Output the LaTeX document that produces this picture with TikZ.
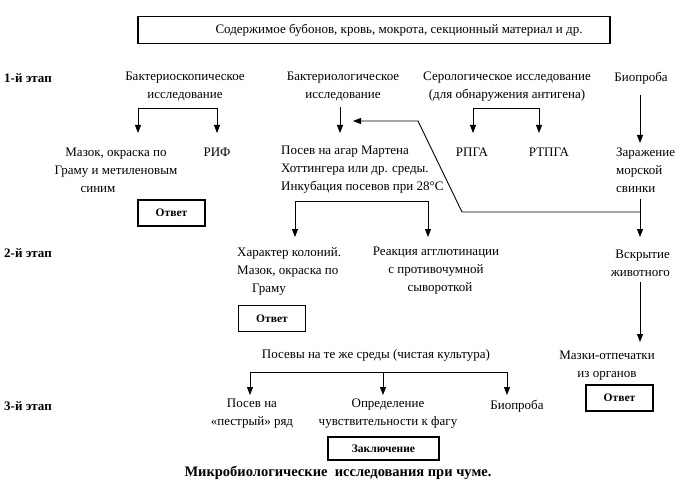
\documentclass[tikz,border=0pt]{standalone}
\usepackage{fontspec}
\setmainfont{Liberation Serif}
\usetikzlibrary{arrows.meta}
\begin{document}
\begin{tikzpicture}[x=1pt,y=-1pt,
  txt/.style={inner sep=0pt,font=\fontsize{13}{18}\selectfont},
  stage/.style={inner sep=0pt,anchor=west,font=\fontsize{13}{18}\selectfont\bfseries},
  ansbox/.style={draw,line width=1.1pt,inner sep=0pt,minimum width=67pt,minimum height=26pt,font=\fontsize{11.5}{14}\selectfont\bfseries},
  ln/.style={line width=0.9pt},
  arr/.style={line width=0.9pt,-{Triangle[length=8pt,width=6pt]}}]
\useasboundingbox (0,0) rectangle (682,497);

% source box
\node[draw,line width=1.1pt,inner sep=0pt,minimum width=472pt,minimum height=27pt,txt] (src) at (374,30)
  {\hspace*{50pt}Содержимое бубонов, кровь, мокрота, секционный материал и др.};

% stage labels
\node[stage] (st1) at (4,78) {1-й этап};
\node[stage] (st2) at (4,253) {2-й этап};
\node[stage] (st3) at (4,406) {3-й этап};

% stage 1 headers
\node[txt,align=center] (bsk) at (185,87) {Бактериоскопическое\\исследование};
\node[txt,align=center] (bkl) at (343,87) {Бактериологическое\\исследование};
\node[txt,align=center] (ser) at (507,87) {Серологическое исследование\\(для обнаружения антигена)};
\node[txt] (bio) at (641,78) {Биопроба};

% stage 1 results
\node[txt,align=center] (maz) at (116,170) {Мазок, окраска по\\Граму и метиленовым\\синим\hspace*{36pt}};
\node[txt] (rif) at (217,152) {РИФ};
\node[txt,align=left,anchor=west] (pos) at (281,170) {Посев на агар Мартена\\Хоттингера или др. среды.\\Инкубация посевов при 28°C};
\node[txt] (rpga) at (472,152) {РПГА};
\node[txt] (rtpga) at (549,152) {РТПГА};
\node[txt,align=left,anchor=west] (zar) at (616,170) {Заражение\\морской\\свинки};
\node[ansbox] (otv1) at (171.5,213) {Ответ};

% stage 2
\node[txt,align=left,anchor=west] (har) at (237,271) {Характер колоний.\\Мазок, окраска по\\\hspace*{15pt}Граму};
\node[txt,align=center] (rea) at (436,271) {Реакция агглютинации\\с противочумной\hspace*{10pt}\\\hspace*{8pt}сывороткой};
\node[txt,align=right,anchor=east] (vsk) at (670,263) {Вскрытие\\животного};
\node[ansbox] (otv2) at (272,318.5) {Ответ};
\node[txt] (posv) at (376,355) {Посевы на те же среды (чистая культура)};
\node[txt,align=center] (mzk) at (607,366) {Мазки-отпечатки\\из органов};

% stage 3
\node[txt,align=center] (pes) at (252,414) {Посев на\\«пестрый» ряд};
\node[txt,align=center] (opr) at (388,414) {Определение\\чувствительности к фагу};
\node[txt] (bio2) at (517,406) {Биопроба};
\node[ansbox] (otv3) at (619.5,398) {Ответ};
\node[ansbox,minimum width=111pt,minimum height=23pt] (zak) at (383.5,448.5) {Заключение};

\node[inner sep=0pt,font=\fontsize{14.5}{18}\selectfont\bfseries] (title) at (338,473)
  {Микробиологические\ \ исследования при чуме.};

% connectors
\coordinate (b1l) at (138,108);
\coordinate (b1r) at (217,108);
\draw[ln] (b1l) -- (b1r);
\draw[arr] (b1l) -- (b1l |- 0,133);
\draw[arr] (b1r) -- (b1r |- 0,133);

\coordinate (k1) at (340,107);
\draw[arr] (k1) -- (k1 |- 0,133);

\coordinate (s1l) at (473,108);
\coordinate (s1r) at (539,108);
\draw[ln] (s1l) -- (s1r);
\draw[arr] (s1l) -- (s1l |- 0,133);
\draw[arr] (s1r) -- (s1r |- 0,133);

\coordinate (bv) at (640,95);
\draw[arr] (bv) -- (bv |- 0,143);

\coordinate (zv) at (640,199);
\draw[arr] (zv) -- (zv |- 0,237);

\coordinate (d3) at (640,212);
\coordinate (d2) at (462,212);
\coordinate (d1) at (418,121);
\coordinate (d0) at (353,121);
\draw[arr] (d3) -- (d2) -- (d1) -- (d0);

\coordinate (p1l) at (295,201);
\coordinate (p1r) at (428,201);
\draw[ln] (p1l) -- (p1r);
\draw[arr] (p1l) -- (p1l |- 0,237);
\draw[arr] (p1r) -- (p1r |- 0,237);

\coordinate (vv) at (640,282);
\draw[arr] (vv) -- (vv |- 0,342);

\coordinate (c3l) at (250,372);
\coordinate (c3m) at (383,372);
\coordinate (c3r) at (507,372);
\draw[ln] (c3l) -- (c3r);
\draw[arr] (c3l) -- (c3l |- 0,395);
\draw[arr] (c3m) -- (c3m |- 0,395);
\draw[arr] (c3r) -- (c3r |- 0,395);
\end{tikzpicture}
\end{document}
